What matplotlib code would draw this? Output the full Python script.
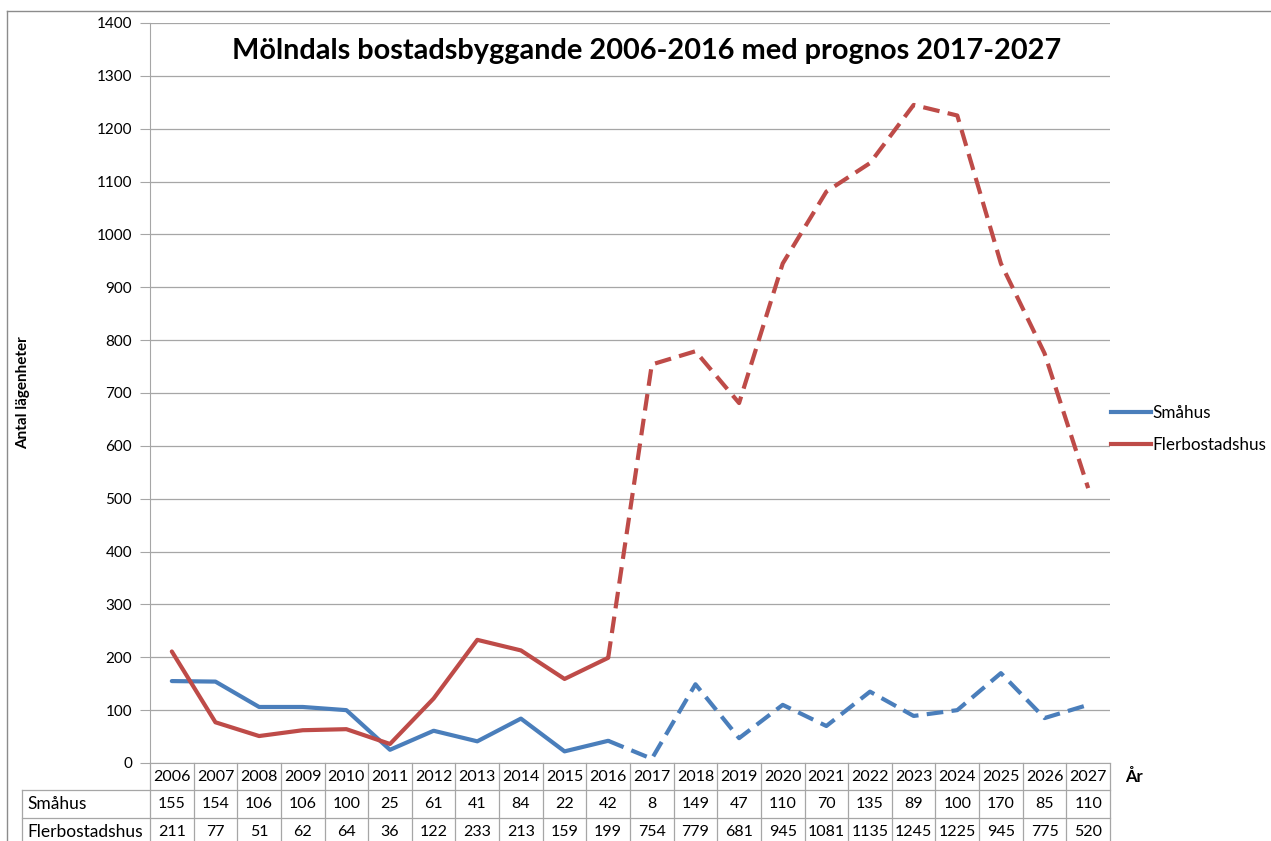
import numpy as np
import matplotlib.pyplot as plt
from matplotlib.lines import Line2D
import matplotlib.transforms as mtransforms

plt.rcParams['font.family'] = ['Lato', 'DejaVu Sans']

years = [str(y) for y in range(2006, 2028)]
smahus = [155, 154, 106, 106, 100, 25, 61, 41, 84, 22, 42,
          8, 149, 47, 110, 70, 135, 89, 100, 170, 85, 110]
fler = [211, 77, 51, 62, 64, 36, 122, 233, 213, 159, 199,
        754, 779, 681, 945, 1081, 1135, 1245, 1225, 945, 775, 520]
split = 10  # index of 2016, last actual year

blue = '#4A7EBB'
red = '#BE4B48'
grid = '#A6A6A6'

fig = plt.figure(figsize=(12.71, 8.41), dpi=100)
ax = fig.add_axes([150/1271, 78/841, 960/1271, 740/841])

x = np.arange(len(years))
for vals, col in [(smahus, blue), (fler, red)]:
    ax.plot(x[:split+1], vals[:split+1], color=col, lw=3, solid_capstyle='round')
    ax.plot(x[split:], vals[split:], color=col, lw=3, linestyle=(0, (4, 2)))

ax.set_xlim(-0.5, len(years) - 0.5)
ax.set_ylim(0, 1400)
ax.set_yticks(range(0, 1401, 100))
ax.yaxis.grid(True, color=grid, lw=0.9)
ax.set_axisbelow(True)
ax.set_xticks([])
for s in ['top', 'right']:
    ax.spines[s].set_visible(False)
for s in ['left', 'bottom']:
    ax.spines[s].set_color(grid)
ax.tick_params(axis='y', length=7, color=grid, labelsize=11, pad=6)

ax.set_ylabel('Antal lägenheter', fontsize=11, fontweight='bold')
ax.yaxis.set_label_coords(-0.125, 0.5)
ax.set_title('Mölndals bostadsbyggande 2006-2016 med prognos 2017-2027',
             fontsize=20.8, fontweight='bold', x=0.517, y=0.94)

# data table under the chart
tr = mtransforms.blended_transform_factory(ax.transData, ax.transAxes)
row_y = [-0.0189, -0.0554, -0.0932]
edges = [0, -0.0365, -0.0743, -0.12]
left = -0.5 - 128/960*len(years)
lkw = dict(color=grid, lw=0.9, transform=tr, clip_on=False)
for i in range(len(years) + 1):
    ax.add_line(Line2D([i - 0.5, i - 0.5], [0, edges[-1]], **lkw))
ax.add_line(Line2D([left, left], [edges[1], edges[-1]], **lkw))
for e in edges[1:3]:
    ax.add_line(Line2D([left, len(years) - 0.5], [e, e], **lkw))
for i in range(len(years)):
    ax.text(i, row_y[0], years[i], transform=tr, ha='center', va='center', fontsize=11.5)
    ax.text(i, row_y[1], str(smahus[i]), transform=tr, ha='center', va='center', fontsize=11.5)
    ax.text(i, row_y[2], str(fler[i]), transform=tr, ha='center', va='center', fontsize=11.5)
ax.text(left + 0.12, row_y[1], 'Småhus', transform=tr, ha='left', va='center', fontsize=12.5)
ax.text(left + 0.12, row_y[2], 'Flerbostadshus', transform=tr, ha='left', va='center', fontsize=12.5)
ax.text(len(years) - 0.15, row_y[0], 'År', transform=tr, ha='left', va='center',
        fontsize=12, fontweight='bold')

# legend
fig.legend(handles=[Line2D([], [], color=blue, lw=3), Line2D([], [], color=red, lw=3)],
           labels=['Småhus', 'Flerbostadshus'], loc='center left',
           bbox_to_anchor=(1096/1271, 1 - 429/841), frameon=False, fontsize=12.3,
           handlelength=2.3, handletextpad=0.1, labelspacing=0.95)

# outer frame
fig.add_artist(Line2D([7/1271, 7/1271], [0, 1 - 11/841], color='#8C8C8C', lw=1))
fig.add_artist(Line2D([7/1271, 1], [1 - 11/841, 1 - 11/841], color='#8C8C8C', lw=1))

fig.savefig('out.png', dpi=100)
